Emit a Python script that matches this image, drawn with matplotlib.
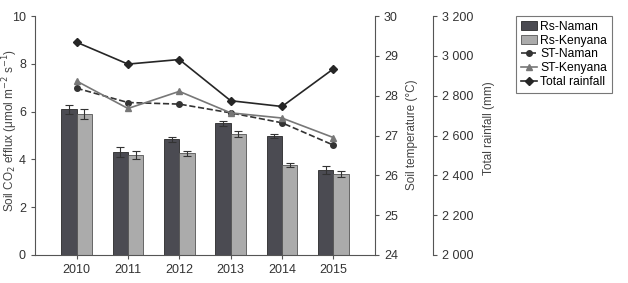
import matplotlib.pyplot as plt
import numpy as np

years = ["2010", "2011", "2012", "2013", "2014", "2015"]

# soil CO2 efflux (bars)
rs_naman = [6.1, 4.3, 4.84, 5.52, 4.97, 3.56]
rs_naman_err = [0.2, 0.2, 0.1, 0.11, 0.08, 0.16]
rs_kenyana = [5.9, 4.2, 4.25, 5.06, 3.77, 3.38]
rs_kenyana_err = [0.2, 0.17, 0.12, 0.11, 0.09, 0.13]

# soil temperature (deg C)
st_naman = [28.19, 27.83, 27.79, 27.57, 27.32, 26.76]
st_kenyana = [28.37, 27.68, 28.11, 27.57, 27.44, 26.95]

# total rainfall (mm)
rainfall = [3069, 2959, 2982, 2775, 2746, 2935]

plt.rcParams['font.family'] = ['Liberation Sans', 'DejaVu Sans']
plt.rcParams['font.size'] = 9

fig = plt.figure(figsize=(6.28, 2.83), dpi=100)
ax = fig.add_axes([0.0557, 0.099, 0.5414, 0.844])

x = np.arange(len(years))
w = 0.3
ax.bar(x - w / 2, rs_naman, w, color='#4b4b52', edgecolor='#2a2a2a', linewidth=0.6,
       yerr=rs_naman_err, error_kw=dict(ecolor='#333333', elinewidth=0.8, capsize=3, capthick=0.8),
       label='Rs-Naman')
ax.bar(x + w / 2, rs_kenyana, w, color='#ababab', edgecolor='#555555', linewidth=0.6,
       yerr=rs_kenyana_err, error_kw=dict(ecolor='#333333', elinewidth=0.8, capsize=3, capthick=0.8),
       label='Rs-Kenyana')
ax.set_xlim(-0.81, 5.81)
ax.set_ylim(0, 10)
ax.set_yticks([0, 2, 4, 6, 8, 10])
ax.set_xticks(x)
ax.set_xticklabels(years)
ax.spines['top'].set_visible(False)
ax.spines['right'].set_visible(False)
for s in ['left', 'bottom']:
    ax.spines[s].set_color('#555555')
ax.tick_params(colors='#555555', labelcolor='#333333', length=3)
fig.text(0.017, 0.54, 'Soil CO$_2$ efflux (μmol m$^{-2}$ s$^{-1}$)', rotation=90,
         ha='center', va='center', color='#444444', fontsize=8.5)

# temperature axis
ax2 = ax.twinx()
ax2.plot(x, st_naman, '--', color='#333333', marker='o', markersize=4, linewidth=1.2,
         label='ST-Naman')
ax2.plot(x, st_kenyana, '-', color='#777777', marker='^', markersize=4.5, linewidth=1.2,
         label='ST-Kenyana')
ax2.set_ylim(24, 30)
for s in ['top', 'left', 'bottom']:
    ax2.spines[s].set_visible(False)
ax2.spines['right'].set_color('#555555')
ax2.tick_params(colors='#555555', labelcolor='#333333', length=3)
fig.text(0.656, 0.523, 'Soil temperature (°C)', rotation=90,
         ha='center', va='center', color='#444444', fontsize=8.5)

# rainfall axis
ax3 = ax.twinx()
ax3.spines['right'].set_position(('axes', 1.171))
ax3.plot(x, rainfall, '-', color='#262626', marker='D', markersize=4.5, linewidth=1.2,
         label='Total rainfall')
ax3.set_ylim(2000, 3200)
ax3.set_yticks(range(2000, 3201, 200))
ax3.set_yticklabels([f"{v // 1000} {v % 1000:03d}" for v in range(2000, 3201, 200)])
for s in ['top', 'left', 'bottom']:
    ax3.spines[s].set_visible(False)
ax3.spines['right'].set_color('#555555')
ax3.tick_params(colors='#555555', labelcolor='#333333', length=3)
fig.text(0.779, 0.548, 'Total rainfall (mm)', rotation=90,
         ha='center', va='center', color='#444444', fontsize=8.5)

handles = []
labels = []
for a in (ax, ax2, ax3):
    h, l = a.get_legend_handles_labels()
    handles += h
    labels += l
leg = fig.legend(handles, labels, loc='upper left', bbox_to_anchor=(0.812, 0.965),
                 frameon=True, fancybox=False, edgecolor='#555555', fontsize=8.7,
                 handlelength=1.3, handletextpad=0.3, borderpad=0.4, labelspacing=0.15)
leg.get_frame().set_linewidth(0.8)

fig.savefig('out.png', dpi=100)
